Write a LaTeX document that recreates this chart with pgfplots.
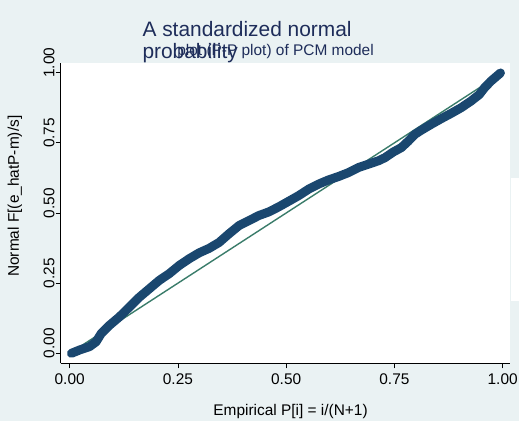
\documentclass[border=0pt]{standalone}
\usepackage{pgfplots}
\pgfplotsset{compat=1.18}
\usepackage{fontspec}
\setmainfont{Liberation Sans}
\definecolor{bgc}{RGB}{234,242,243}
\definecolor{navy}{RGB}{26,71,111}
\definecolor{refg}{RGB}{58,124,106}
\definecolor{ttl}{RGB}{30,45,90}

\begin{document}
\begin{tikzpicture}
% graph region
\fill[bgc] (0pt,0pt) rectangle (521pt,423pt);
\fill[white] (513pt,121pt) rectangle (521pt,244pt);
\begin{axis}[
    at={(61pt,58pt)}, anchor=south west,
    scale only axis, width=451pt, height=302pt,
    xmin=-0.0207, xmax=1.016, ymin=-0.0355, ymax=1.0355,
    axis x line=bottom, axis y line=left,
    axis line style={-, line width=0.8pt, black},
    axis background/.style={fill=white},
    tick align=outside, major tick length=5pt,
    tick style={black, line width=0.8pt},
    xtick={0,0.25,0.5,0.75,1}, ytick={0,0.25,0.5,0.75,1},
    xticklabels={0.00,0.25,0.50,0.75,1.00},
    yticklabels={0.00,0.25,0.50,0.75,1.00},
    ticklabel style={font=\fontsize{15.5}{18}\selectfont, black},
    xticklabel style={anchor=north, yshift=-2pt},
    yticklabel style={yshift=10pt, rotate=90, anchor=south, inner sep=1pt},
    label style={font=\fontsize{15.5}{18}\selectfont, black},
    xlabel={Empirical P[i] = i/(N+1)},
    ylabel={Normal F[(e\_hatP-m)/s]},
    xlabel style={at={(axis description cs:0.512,-0.162)}, anchor=center},
    ylabel style={at={(axis description cs:-0.102,0.556)}, anchor=center},
    clip=false,
]
% reference line
\addplot[refg, line width=1.4pt] coordinates {(0,0) (1,1)};
% P-P points
\addplot[navy, line width=9pt, line cap=round, line join=round] coordinates {
(0.004,0.000) (0.023,0.012) (0.046,0.024) (0.061,0.041) (0.073,0.071)
(0.092,0.100) (0.115,0.130) (0.138,0.165) (0.161,0.200) (0.184,0.230)
(0.207,0.260) (0.230,0.284) (0.253,0.313) (0.276,0.337) (0.299,0.358)
(0.322,0.374) (0.345,0.395) (0.368,0.426) (0.391,0.455) (0.414,0.473)
(0.437,0.491) (0.460,0.504) (0.483,0.522) (0.506,0.542) (0.529,0.562)
(0.552,0.585) (0.575,0.603) (0.598,0.618) (0.621,0.630) (0.644,0.644)
(0.667,0.662) (0.690,0.674) (0.713,0.686) (0.728,0.697) (0.747,0.717)
(0.766,0.733) (0.782,0.756) (0.797,0.780) (0.812,0.795) (0.835,0.816)
(0.858,0.836) (0.881,0.855) (0.904,0.875) (0.927,0.899) (0.946,0.922)
(0.958,0.946) (0.973,0.970) (0.995,0.999)
};
\end{axis}
% titles
\node[anchor=base west, inner sep=0, text=ttl, font=\fontsize{21}{24}\selectfont] at (143pt,386pt) {A standardized normal};
\node[anchor=base west, inner sep=0, text=ttl, font=\fontsize{21}{24}\selectfont] at (143pt,364pt) {probability};
\node[anchor=base west, inner sep=0, text=ttl, font=\fontsize{15.5}{18}\selectfont] at (178pt,367pt) {plot (P-P plot) of PCM model};
\end{tikzpicture}
\end{document}
